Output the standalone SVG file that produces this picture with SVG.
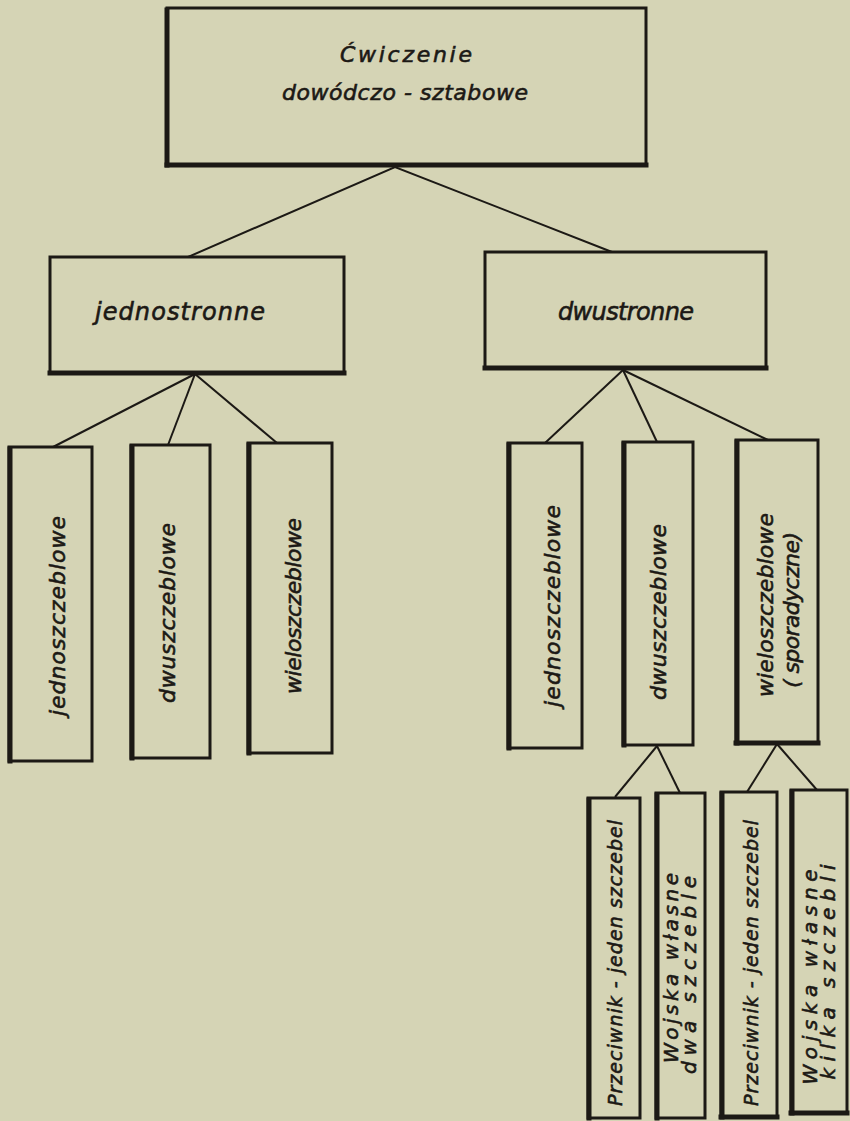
<svg xmlns="http://www.w3.org/2000/svg" width="850" height="1121" viewBox="0 0 850 1121">
<style>
.bg{fill:#d5d4b5}
.box{fill:none;stroke:#1c1915;stroke-width:3}
.edge{stroke:#1c1915;stroke-width:5;stroke-linecap:square}
.con{fill:none;stroke:#1c1915;stroke-width:2}
.t{font-family:"DejaVu Sans","Liberation Sans",sans-serif;font-style:italic;fill:#1c1915;stroke:#1c1915;stroke-width:0.6;text-anchor:middle}
.top{font-size:22px}
.h{font-size:24px}
.v{font-size:22px}
.s{font-size:19px}
.s2{font-size:20px}
</style>
<rect class="bg" x="0" y="0" width="850" height="1121"/>
<g id="connectors">
<polyline class="con" points="188,257 395,167 612,252"/>
<line class="con" x1="195" y1="374" x2="53" y2="447"/>
<line class="con" x1="195" y1="374" x2="168" y2="445"/>
<line class="con" x1="195" y1="374" x2="277" y2="443"/>
<line class="con" x1="623" y1="370" x2="545" y2="443"/>
<line class="con" x1="623" y1="370" x2="657" y2="442"/>
<line class="con" x1="623" y1="370" x2="768" y2="440"/>
<line class="con" x1="657" y1="746" x2="615" y2="797"/>
<line class="con" x1="657" y1="746" x2="680" y2="793"/>
<line class="con" x1="777" y1="744" x2="747" y2="792"/>
<line class="con" x1="777" y1="744" x2="817" y2="790"/>
</g>
<g id="root">
<rect class="box" x="167" y="8" width="479" height="157"/>
<line class="edge" x1="167" y1="10" x2="167" y2="165"/>
<line class="edge" x1="167" y1="165" x2="646" y2="165"/>
<text class="t top" x="406" y="62" textLength="132" lengthAdjust="spacing">Ćwiczenie</text>
<text class="t top" x="405" y="100" textLength="246" lengthAdjust="spacing">dowódczo - sztabowe</text>
</g>
<g id="jednostronne">
<rect class="box" x="50" y="257" width="294" height="116"/>
<line class="edge" x1="50" y1="373" x2="344" y2="373"/>
<text class="t h" x="180" y="320" textLength="170" lengthAdjust="spacing">jednostronne</text>
</g>
<g id="dwustronne">
<rect class="box" x="485" y="252" width="281" height="116"/>
<line class="edge" x1="485" y1="368" x2="766" y2="368"/>
<text class="t h" x="626" y="320" textLength="136" lengthAdjust="spacing">dwustronne</text>
</g>
<g id="j-jedno">
<rect class="box" x="9" y="447" width="83" height="314"/>
<line class="edge" x1="10" y1="449" x2="10" y2="761"/>
<text class="t v" transform="translate(57,616) rotate(-90)" dy="0.35em" textLength="200" lengthAdjust="spacing">jednoszczeblowe</text>
</g>
<g id="j-dwu">
<rect class="box" x="131" y="445" width="79" height="313"/>
<line class="edge" x1="132" y1="447" x2="132" y2="758"/>
<text class="t v" transform="translate(167,613) rotate(-90)" dy="0.35em" textLength="180" lengthAdjust="spacing">dwuszczeblowe</text>
</g>
<g id="j-wielo">
<rect class="box" x="248" y="443" width="84" height="310"/>
<line class="edge" x1="249" y1="445" x2="249" y2="753"/>
<text class="t v" transform="translate(293,606) rotate(-90)" dy="0.35em" textLength="176" lengthAdjust="spacing">wieloszczeblowe</text>
</g>
<g id="d-jedno">
<rect class="box" x="508" y="443" width="74" height="305"/>
<line class="edge" x1="509" y1="445" x2="509" y2="748"/>
<text class="t v" transform="translate(552,606) rotate(-90)" dy="0.35em" textLength="202" lengthAdjust="spacing">jednoszczeblowe</text>
</g>
<g id="d-dwu">
<rect class="box" x="623" y="442" width="70" height="303"/>
<line class="edge" x1="624" y1="444" x2="624" y2="745"/>
<text class="t v" transform="translate(658,612) rotate(-90)" dy="0.35em" textLength="176" lengthAdjust="spacing">dwuszczeblowe</text>
</g>
<g id="d-wielo">
<rect class="box" x="736" y="440" width="82" height="303"/>
<line class="edge" x1="737" y1="442" x2="737" y2="743"/>
<line class="edge" x1="736" y1="743" x2="818" y2="743"/>
<text class="t v" transform="translate(765,605) rotate(-90)" dy="0.35em" textLength="184" lengthAdjust="spacing">wieloszczeblowe</text>
<text class="t v" transform="translate(791,610) rotate(-90)" dy="0.35em" textLength="156" lengthAdjust="spacing">( sporadyczne)</text>
</g>
<g id="dd-przeciwnik">
<rect class="box" x="588" y="798" width="52" height="320"/>
<line class="edge" x1="589" y1="800" x2="589" y2="1118"/>
<text class="t s" transform="translate(615,963) rotate(-90)" dy="0.35em" textLength="286" lengthAdjust="spacing">Przeciwnik - jeden szczebel</text>
</g>
<g id="dd-wojska">
<rect class="box" x="656" y="793" width="49" height="325"/>
<line class="edge" x1="657" y1="795" x2="657" y2="1118"/>
<text class="t s2" transform="translate(671,968) rotate(-90)" dy="0.35em" textLength="190" lengthAdjust="spacing">Wojska  własne</text>
<text class="t s2" transform="translate(689,975) rotate(-90)" dy="0.35em" textLength="198" lengthAdjust="spacing">dwa  szczeble</text>
</g>
<g id="dw-przeciwnik">
<rect class="box" x="721" y="792" width="56" height="325"/>
<line class="edge" x1="722" y1="794" x2="722" y2="1117"/>
<line class="edge" x1="721" y1="1117" x2="777" y2="1117"/>
<text class="t s" transform="translate(751,963) rotate(-90)" dy="0.35em" textLength="286" lengthAdjust="spacing">Przeciwnik - jeden szczebel</text>
</g>
<g id="dw-wojska">
<rect class="box" x="791" y="790" width="56" height="323"/>
<line class="edge" x1="792" y1="792" x2="792" y2="1113"/>
<line class="edge" x1="791" y1="1113" x2="847" y2="1113"/>
<text class="t s2" transform="translate(810,977) rotate(-90)" dy="0.35em" textLength="215" lengthAdjust="spacing">Wojska  własne</text>
<text class="t s2" transform="translate(828,972) rotate(-90)" dy="0.35em" textLength="215" lengthAdjust="spacing">kilka  szczebli</text>
</g>
</svg>
